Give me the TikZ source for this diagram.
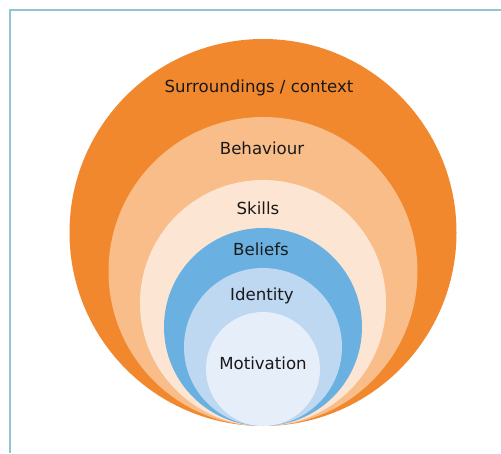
\documentclass[tikz,border=0pt]{standalone}
\usepackage{fontspec}
\setmainfont{DejaVu Sans}
\usepackage{tikz}
\usetikzlibrary{positioning}

\definecolor{ctxorange}{HTML}{F1882E}
\definecolor{behorange}{HTML}{F8BD89}
\definecolor{skillpeach}{HTML}{FDE5D3}
\definecolor{beliefblue}{HTML}{6AB1E1}
\definecolor{identblue}{HTML}{BED8F1}
\definecolor{motivblue}{HTML}{E6EEFA}
\definecolor{framecol}{HTML}{92C5D4}

\begin{document}
\begin{tikzpicture}[x=1pt,y=-1pt]
  \tikzset{
    frame/.style={draw=framecol, line width=1.6pt},
    layer/.style={draw=none},
    lbl/.style={font=\fontsize{16.6}{19}\selectfont, text=black!90, anchor=base, inner sep=0pt}
  }

  % centre line and the common bottom point of all circles
  \def\cx{263}
  \def\by{426}

  \useasboundingbox (0,0) rectangle (501,453);

  % panel edge
  \draw[frame] (10,453) -- (10,10) -- (501,10);

  % nested circles, all touching at the bottom
  \fill[layer, ctxorange]  (\cx,\by-193.5) circle (193.5pt);
  \fill[layer, behorange]  (\cx,\by-154.5) circle (154.5pt);
  \fill[layer, skillpeach] (\cx,\by-123)   circle (123pt);
  \fill[layer, beliefblue] (\cx,\by-99)    circle (99pt);
  \fill[layer, identblue]  (\cx,\by-79)    circle (79pt);
  \fill[layer, motivblue]  (\cx,\by-57)    circle (57pt);

  % labels
  \node[lbl] (context) at (259,92) {Surroundings / context};
  \node[lbl] (behaviour) at (262,154) {Behaviour};
  \node[lbl] (skills) at (258,214) {Skills};
  \node[lbl] (beliefs) at (261,255) {Beliefs};
  \node[lbl] (identity) at (262,300) {Identity};
  \node[lbl] (motivation) at (263,369) {Motivation};
\end{tikzpicture}
\end{document}
